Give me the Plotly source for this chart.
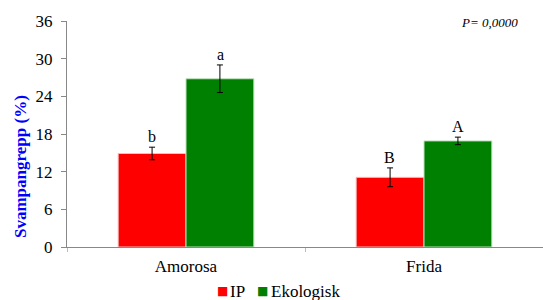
import plotly.graph_objects as go

categories = ["Amorosa", "Frida"]
ip_values = [14.9, 11.1]
ip_errors = [1.0, 1.5]
eko_values = [26.8, 16.9]
eko_errors = [2.2, 0.6]
ip_letters = ["b", "B"]
eko_letters = ["a", "A"]
y_ticks = [0, 6, 12, 18, 24, 30, 36]
series_names = ["IP", "Ekologisk"]
series_colors = ["#FF0000", "#008000"]

font_family = "Liberation Serif, Times New Roman, serif"

fig = go.Figure()
fig.add_trace(go.Bar(
    name=series_names[0], x=categories, y=ip_values, showlegend=False,
    marker=dict(color=series_colors[0], line=dict(color="#f2c0c0", width=1)),
    error_y=dict(type="data", array=ip_errors, color="black", thickness=1, width=3),
))
fig.add_trace(go.Bar(
    name=series_names[1], x=categories, y=eko_values, showlegend=False,
    marker=dict(color=series_colors[1], line=dict(color="#c0e0c0", width=1)),
    error_y=dict(type="data", array=eko_errors, color="black", thickness=1, width=3),
))

for i, c in enumerate(categories):
    fig.add_annotation(x=i - 0.143, y=ip_values[i] + ip_errors[i], text=ip_letters[i],
                       showarrow=False, yanchor="bottom", yshift=0, xref="x", yref="y",
                       font=dict(family=font_family, size=16, color="black"))
    fig.add_annotation(x=i + 0.143, y=eko_values[i] + eko_errors[i], text=eko_letters[i],
                       showarrow=False, yanchor="bottom", yshift=0, xref="x", yref="y",
                       font=dict(family=font_family, size=16, color="black"))

fig.add_annotation(x=(489 - 67) / 476, y=(247 - 22) / 226, xref="paper", yref="paper",
                   text="<i>P= 0,0000</i>", showarrow=False, xanchor="center", yanchor="middle",
                   font=dict(family=font_family, size=13, color="black"))

# y-axis title (placed as rotated annotation to match the original offset)
fig.add_annotation(x=-(67 - 20) / 476, y=(247 - 167) / 226, xref="paper", yref="paper",
                   text="<b>Svampangrepp (%)</b>", textangle=-90, showarrow=False,
                   xanchor="center", yanchor="middle",
                   font=dict(family=font_family, size=17, color="#0000FF"))

# legend: colored squares + labels
legend_square_x = [222, 262]
legend_text_x = [229, 270]
legend_y = -(291 - 247) / 226
for name, color, sx, tx in zip(series_names, series_colors, legend_square_x, legend_text_x):
    fig.add_annotation(x=(sx - 67) / 476, y=legend_y, xref="paper", yref="paper",
                       text="■", showarrow=False, xanchor="center", yanchor="middle",
                       font=dict(family="DejaVu Sans", size=12, color=color))
    fig.add_annotation(x=(tx - 67) / 476, y=legend_y, xref="paper", yref="paper",
                       text=name, showarrow=False, xanchor="left", yanchor="middle",
                       xshift=-1, font=dict(family=font_family, size=17, color="black"))

fig.update_layout(
    width=543, height=300,
    margin=dict(l=67, r=0, t=21, b=53, autoexpand=False),
    paper_bgcolor="white", plot_bgcolor="white",
    barmode="group", bargap=0.43, bargroupgap=0,
    font=dict(family=font_family, size=17, color="black"),
    showlegend=False,
    xaxis=dict(showline=True, linecolor="#888888", linewidth=1, ticks="outside",
               tickson="boundaries", ticklen=4, tickcolor="#bbbbbb", automargin=False,
               ticklabelstandoff=4,
               tickfont=dict(family=font_family, size=17, color="black")),
    yaxis=dict(range=[0, 36], tickvals=y_ticks, showgrid=False, showline=True,
               linecolor="#888888", linewidth=1, ticks="outside", ticklen=5,
               tickcolor="#888888", zeroline=False, automargin=False,
               ticklabelstandoff=5,
               tickfont=dict(family=font_family, size=17, color="black")),
)

fig.write_html("out.html", config={"displayModeBar": False},
               post_script="document.body.style.margin='0';")
